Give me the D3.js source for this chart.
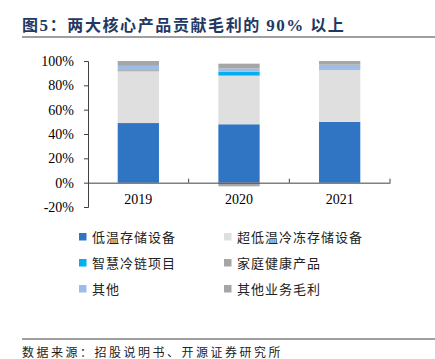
<!DOCTYPE html>
<html><head><meta charset="utf-8">
<script src="https://cdn.jsdelivr.net/npm/d3@7"></script>
<style>
body{margin:0;background:#fff;}
svg{display:block;}
</style></head>
<body><svg id="c" width="435" height="359"></svg>
<script>
const years = ["2019", "2020", "2021"];
const seriesNames = ["低温存储设备", "超低温冷冻存储设备", "智慧冷链项目", "家庭健康产品", "其他", "其他业务毛利"];
const seriesColors = ["#3074c4", "#dfdfdf", "#00b0f0", "#a6a6a6", "#9dbde8", "#a6a6a6"];
const lowTemp = [49, 48, 50];
const ultraLow = [42.5, 40, 43];
const smartCold = [0, 3.3, 0.5];
const homeHealth = [1, -3, 0];
const others = [3.5, 2.5, 3.5];
const otherBiz = [4, 4, 3];
const yTicks = [-20, 0, 20, 40, 60, 80, 100];

const seriesValues = [lowTemp, ultraLow, smartCold, homeHealth, others, otherBiz];
const table = years.map((y, i) => {
  const o = {year: y};
  seriesNames.forEach((s, j) => o[s] = seriesValues[j][i]);
  return o;
});

const svg = d3.select("#c");
const cjk = "'Noto Sans CJK SC', sans-serif";
const serif = "'Liberation Serif', 'Times New Roman', serif";

// Title
const title = svg.append("text").attr("x", 22).attr("y", 31)
  .attr("font-family", cjk).attr("font-weight", "bold").attr("font-size", 16)
  .attr("letter-spacing", 1.6).attr("fill", "#1f3864");
title.append("tspan").text("图");
title.append("tspan").attr("font-family", serif).attr("font-size", 17).text("5");
title.append("tspan").text("：两大核心产品贡献毛利的 ");
title.append("tspan").attr("font-family", serif).attr("font-size", 17).text("90%");
title.append("tspan").text(" 以上");
svg.append("line").attr("x1", 22).attr("x2", 435).attr("y1", 37).attr("y2", 37)
  .attr("stroke", "#7f7f7f").attr("stroke-width", 1.5);

const x = d3.scaleBand().domain(years).range([88, 390]).paddingInner(0.59).paddingOuter(0.295);
const y = d3.scaleLinear().domain([-20, 100]).range([207, 61]);

const stack = d3.stack().keys(seriesNames).offset(d3.stackOffsetDiverging);
const layers = stack(table);

svg.append("g").selectAll("g").data(layers).join("g")
  .attr("fill", (d, i) => seriesColors[i])
  .selectAll("rect").data(d => d).join("rect")
  .attr("x", d => x(d.data.year))
  .attr("width", x.bandwidth())
  .attr("y", d => y(Math.max(d[0], d[1])))
  .attr("height", d => Math.abs(y(d[0]) - y(d[1])));

// Y axis
const yAxis = svg.append("g").attr("transform", "translate(88,0)")
  .call(d3.axisLeft(y).tickValues(yTicks).tickFormat(d => d + "%").tickSize(4).tickPadding(10));
yAxis.select(".domain").attr("stroke", "#404040");
yAxis.selectAll(".tick line").attr("stroke", "#404040");
yAxis.selectAll("text").attr("font-family", serif).attr("font-size", 14).attr("fill", "#000");

// X axis at 0
const xAxis = svg.append("g").attr("transform", `translate(0,${y(0)})`)
  .call(d3.axisBottom(x).tickSize(0).tickPadding(11));
xAxis.select(".domain").attr("stroke", "#404040");
xAxis.selectAll("text").attr("font-family", serif).attr("font-size", 14).attr("fill", "#000");
// category boundary ticks
const step = x.step();
const bounds = years.map(yv => x(yv) - x.paddingInner() * step / 2 + step);
svg.append("g").selectAll("line").data(bounds).join("line")
  .attr("x1", d => d).attr("x2", d => d)
  .attr("y1", y(0)).attr("y2", y(0) - 4)
  .attr("stroke", "#404040");

// Legend
const legPos = [[79, 237], [224, 237], [79, 263], [224, 263], [79, 289], [224, 289]];
const leg = svg.append("g").selectAll("g").data(seriesNames).join("g")
  .attr("transform", (d, i) => `translate(${legPos[i][0]},${legPos[i][1]})`);
leg.append("rect").attr("x", 0).attr("y", -4).attr("width", 7.5).attr("height", 7.5)
  .attr("fill", (d, i) => seriesColors[i]);
leg.append("text").attr("x", 13).attr("y", 0).attr("dy", "0.35em")
  .attr("font-family", cjk).attr("font-size", 13).attr("letter-spacing", 1)
  .attr("fill", "#222").text(d => d);

// Footer
svg.append("line").attr("x1", 22).attr("x2", 435).attr("y1", 339).attr("y2", 339)
  .attr("stroke", "#7f7f7f").attr("stroke-width", 1.5);
svg.append("text").attr("x", 22).attr("y", 357)
  .attr("font-family", cjk).attr("font-size", 12).attr("letter-spacing", 2.5)
  .attr("fill", "#222").text("数据来源：招股说明书、开源证券研究所");
</script>
</body></html>
